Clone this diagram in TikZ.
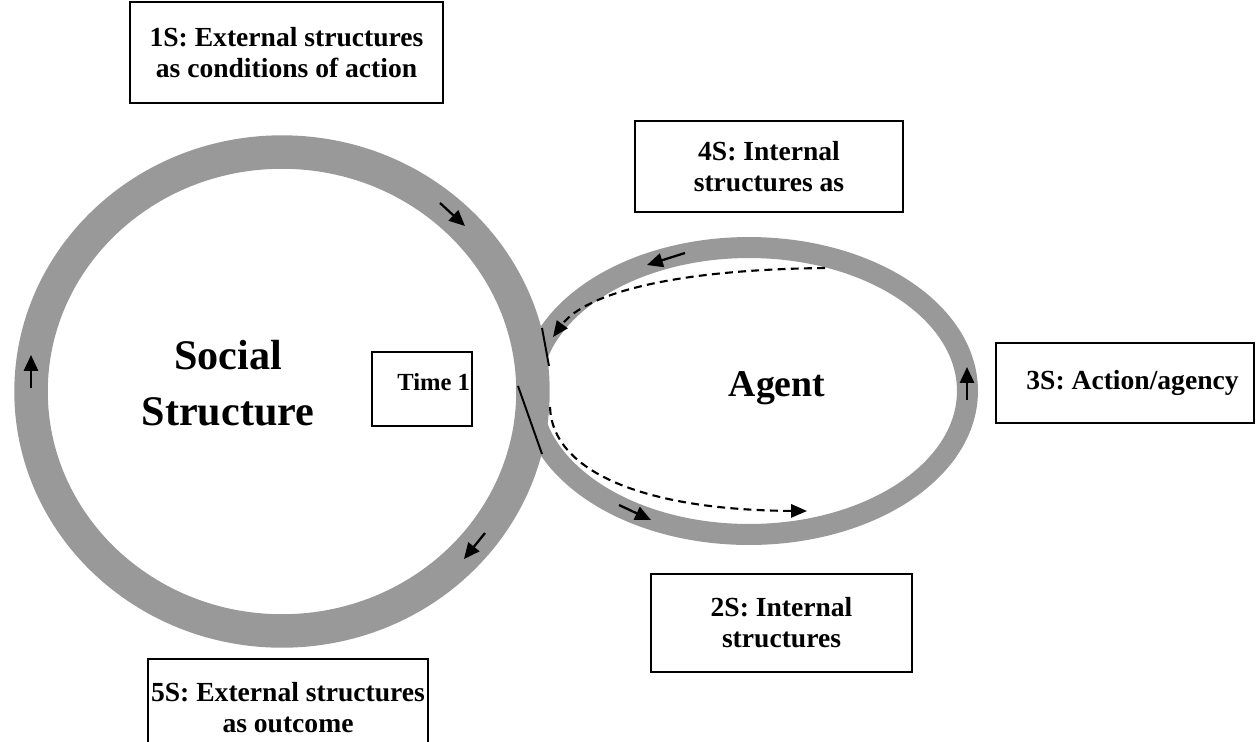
\documentclass[tikz,border=0pt]{standalone}
\usepackage{fontspec}
\setmainfont{Liberation Serif}
\usepackage{xcolor}
\usetikzlibrary{arrows.meta}
\definecolor{ringgray}{RGB}{153,153,153}

\begin{document}
\begin{tikzpicture}[x=0.02cm, y=-0.02cm,
  box/.style={draw, line width=1.3pt, align=center, inner sep=0pt,
              font=\fontsize{15.7}{17.6}\selectfont\bfseries},
  ring/.style={draw=ringgray},
  ringarrow/.style={-{Triangle[length=9pt, width=8pt]}, line width=1.3pt},
  flow/.style={-{Triangle[length=9pt, width=7.5pt]}, line width=1.2pt,
               dash pattern=on 4.5pt off 3pt},
  bigtext/.style={align=center, font=\fontsize{24}{32}\selectfont\bfseries}]
\useasboundingbox (0,0) rectangle (1256,741);
\clip (0,0) rectangle (1256,741);

% the two loops
\draw[ring, line width=0.67cm] (282,391.5) ellipse [x radius=5.02cm, y radius=4.79cm];
\draw[ring, line width=0.42cm] (749,391) ellipse [x radius=4.37cm, y radius=2.87cm];

\node[bigtext] (social) at (228,383) {Social\\Structure};
\node[bigtext, font=\fontsize{21.5}{28}\selectfont\bfseries] (agent) at (777,388) {Agent};

% boxes
\node[box, minimum width=6.26cm, minimum height=2.02cm] (s1) at (286.5,52.5)
  {1S: External structures\\as conditions of action};
\node[box, minimum width=5.36cm, minimum height=1.82cm] (s4) at (769,166.5)
  {4S: Internal\\structures as};
\node[box, minimum width=2cm, minimum height=1.48cm] (t1) at (422,389) {};
\node[font=\fontsize{14}{16}\selectfont\bfseries, anchor=base west, inner sep=0pt]
  (t1label) at (397,390) {Time 1};
\node[box, minimum width=5.16cm, minimum height=1.6cm] (s3) at (1125,383)
  {\hspace*{0.3cm}3S: Action/agency};
\node[box, minimum width=5.22cm, minimum height=1.96cm] (s2) at (781.5,623)
  {2S: Internal\\structures};
\node[box, minimum width=5.6cm, minimum height=1.96cm] (s5) at (288,708)
  {5S: External structures\\as outcome};

% direction marks on the loops
\foreach \xa/\ya/\xb/\yb in {440/203/465/226, 485/533/464/559, 31/388/31/355,
                             967/400/967/367, 685/253/647/265, 619/505/651/520}
  \draw[ringarrow] (\xa,\ya) -- (\xb,\yb);

% junction
\draw[line width=1.1pt] (542,328) -- (549,366);
\draw[line width=1.1pt] (518,386) -- (542,454);

% dashed flows
\coordinate (intop) at (825,268);
\coordinate (injoin) at (553,337);
\coordinate (outjoin) at (550,407);
\coordinate (outbot) at (807,511);
\draw[flow] (intop) .. controls (650,270) and (580,300) .. (injoin);
\draw[flow] (outjoin) .. controls (552,470) and (640,510) .. (outbot);
\end{tikzpicture}
\end{document}
